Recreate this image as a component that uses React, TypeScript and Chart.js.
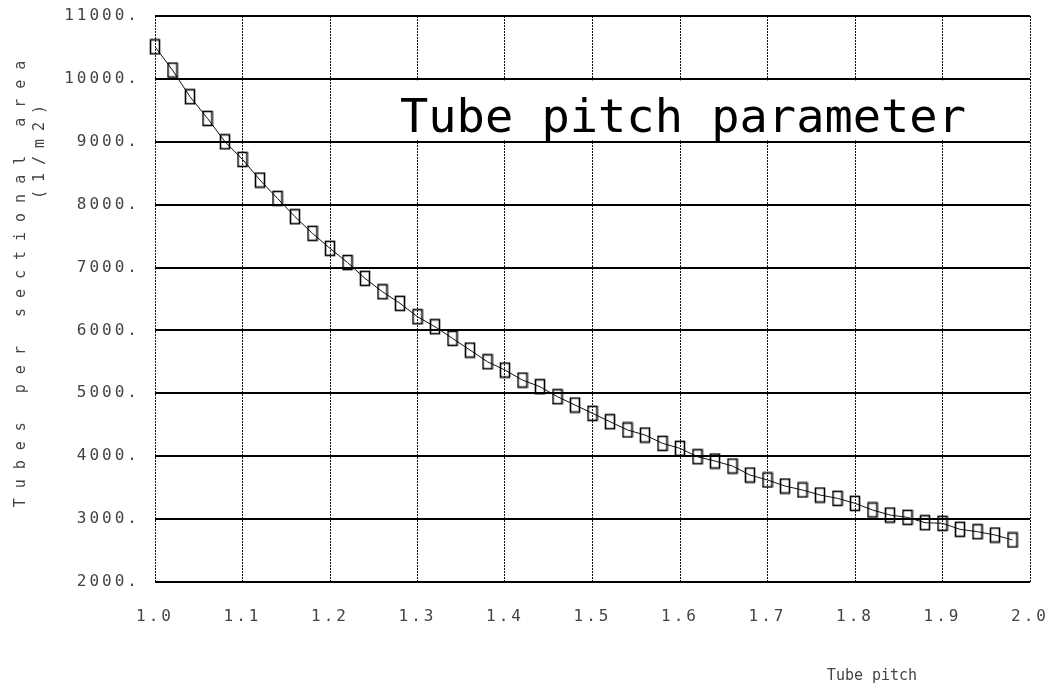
import { useEffect, useRef } from 'react';
import { Chart, registerables } from 'chart.js';

Chart.register(...registerables);

const pitch = [
  1.0, 1.02, 1.04, 1.06, 1.08, 1.1, 1.12, 1.14, 1.16, 1.18,
  1.2, 1.22, 1.24, 1.26, 1.28, 1.3, 1.32, 1.34, 1.36, 1.38,
  1.4, 1.42, 1.44, 1.46, 1.48, 1.5, 1.52, 1.54, 1.56, 1.58,
  1.6, 1.62, 1.64, 1.66, 1.68, 1.7, 1.72, 1.74, 1.76, 1.78,
  1.8, 1.82, 1.84, 1.86, 1.88, 1.9, 1.92, 1.94, 1.96, 1.98,
];

const tubes = [
  10510, 10140, 9716, 9372, 9000, 8720, 8391, 8100, 7808, 7544,
  7305, 7080, 6828, 6615, 6431, 6218, 6059, 5874, 5688, 5502,
  5370, 5211, 5105, 4946, 4814, 4682, 4549, 4417, 4337, 4205,
  4125, 3992, 3924, 3844, 3701, 3622, 3526, 3463, 3383, 3330,
  3251, 3145, 3065, 3028, 2943, 2933, 2838, 2800, 2747, 2668,
];

const titleText = 'Tube pitch parameter';
const xTitle = 'Tube pitch';
const yTitle1 = 'Tubes per sectional area';
const yTitle2 = '(1/m2)';

const MONO = '"DejaVu Sans Mono", "Liberation Mono", monospace';

function makeMarker() {
  const c = document.createElement('canvas');
  c.width = 12;
  c.height = 17;
  const g = c.getContext('2d')!;
  g.strokeStyle = '#000';
  g.lineWidth = 1.6;
  g.strokeRect(1.5, 1.5, 9, 14);
  return c;
}

function zeroPadding(s: any) {
  s.paddingTop = 0;
  s.paddingBottom = 0;
  s.paddingLeft = 0;
  s.paddingRight = 0;
}

const decor = {
  id: 'decor',
  beforeDraw(chart: any) {
    chart.ctx.letterSpacing = '3px';
  },
  beforeDatasetsDraw(chart: any) {
    const { ctx, chartArea, scales } = chart;
    const y = scales.y;
    ctx.save();
    const top = y.getPixelForValue(10000) + 1.5;
    const bot = y.getPixelForValue(9000) - 1.5;
    const left = 377;
    ctx.fillStyle = '#fff';
    ctx.fillRect(left, top, chartArea.right - 1.5 - left, bot - top);
    ctx.letterSpacing = '0px';
    ctx.fillStyle = '#000';
    ctx.font = `47px ${MONO}`;
    ctx.textAlign = 'left';
    ctx.textBaseline = 'alphabetic';
    ctx.fillText(titleText, 392, 124);
    ctx.restore();
  },
  afterDraw(chart: any) {
    const ctx = chart.ctx;
    ctx.save();
    ctx.fillStyle = '#444';
    ctx.textAlign = 'center';
    ctx.textBaseline = 'middle';
    ctx.font = `15px ${MONO}`;
    ctx.letterSpacing = '0px';
    ctx.fillText(xTitle, 864, 668);

    ctx.save();
    ctx.translate(13, 276);
    ctx.rotate(-Math.PI / 2);
    ctx.letterSpacing = '10px';
    ctx.fillText(yTitle1, 5, 0);
    ctx.restore();

    ctx.save();
    ctx.translate(32, 144);
    ctx.rotate(-Math.PI / 2);
    ctx.letterSpacing = '8px';
    ctx.fillText(yTitle2, 4, 0);
    ctx.restore();

    ctx.restore();
    ctx.letterSpacing = '0px';
  },
};

export default function App() {
  const ref = useRef<HTMLCanvasElement | null>(null);

  useEffect(() => {
    if (!ref.current) return;
    const marker = makeMarker();
    const chart = new Chart(ref.current, {
      type: 'line',
      data: {
        datasets: [
          {
            data: pitch.map((p, i) => ({ x: p, y: tubes[i] })),
            borderColor: '#111',
            borderWidth: 1,
            pointStyle: marker as any,
            pointRadius: 6,
            pointHoverRadius: 6,
            tension: 0,
            fill: false,
            clip: false as any,
          },
        ],
      },
      options: {
        responsive: false,
        animation: false,
        devicePixelRatio: 1,
        layout: { padding: { top: 8, right: 18, left: 0, bottom: 0 } },
        plugins: {
          legend: { display: false },
          tooltip: { enabled: false },
          title: { display: false },
        },
        scales: {
          x: {
            type: 'linear',
            min: 1,
            max: 2,
            afterFit: (s: any) => {
              s.height = 106;
              zeroPadding(s);
            },
            ticks: {
              stepSize: 0.1,
              padding: 27,
              color: '#444',
              font: { family: MONO, size: 16, lineHeight: 1 },
              maxRotation: 0,
              autoSkip: false,
              callback: (v: any) => Number(v).toFixed(1),
            },
            grid: {
              color: '#111',
              lineWidth: 1,
              drawTicks: false,
            },
            border: { display: false, dash: [2, 1] },
          },
          y: {
            type: 'linear',
            min: 2000,
            max: 11000,
            afterFit: (s: any) => {
              s.width = 147;
              zeroPadding(s);
            },
            ticks: {
              stepSize: 1000,
              padding: 15,
              color: '#444',
              font: { family: MONO, size: 16, lineHeight: 1 },
              callback: (v: any) => `${v}.`,
            },
            grid: {
              color: '#000',
              lineWidth: 2,
              drawTicks: false,
            },
            border: { display: false },
          },
        },
      },
      plugins: [decor],
    });
    return () => chart.destroy();
  }, []);

  return (
    <div style={{ width: 1040, height: 680 }}>
      <canvas ref={ref} width={1040} height={680} style={{ display: 'block' }} />
    </div>
  );
}
